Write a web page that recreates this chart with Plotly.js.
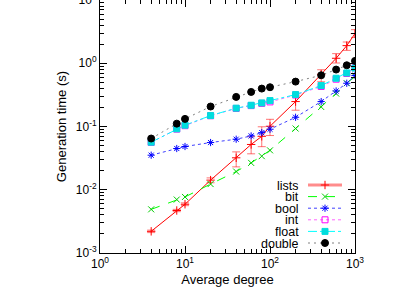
<!DOCTYPE html>
<html><head><meta charset="utf-8">
<script src="https://cdn.plot.ly/plotly-3.0.1.min.js"></script>
<style>html,body{margin:0;padding:0;background:#fff}#c{width:415px;height:291px}</style>
</head><body><div id="c"></div>
<script>
const degree = [4, 8, 10, 20, 40, 60, 80, 100, 200, 400, 600, 800, 1000];
const lists  = [0.0022, 0.0047, 0.0059, 0.0142, 0.032, 0.052, 0.070, 0.101, 0.248, 0.67, 1.2, 1.9, 2.95];
const listsErrPlus  = [0.0001, 0.0002, 0.0003, 0.0012, 0.0077, 0.017, 0.029, 0.029, 0.057, 0.12, 0.22, 0.27, 0.45];
const listsErrMinus = [0.0001, 0.0002, 0.0003, 0.0013, 0.009, 0.015, 0.022, 0.029, 0.067, 0.16, 0.19, 0.30, 0.40];
const bit    = [0.0049, 0.0070, 0.0077, 0.0123, 0.0194, 0.0266, 0.034, 0.042, 0.093, 0.204, 0.332, 0.483, 0.62];
const boolV  = [0.0352, 0.0449, 0.0483, 0.0558, 0.063, 0.071, 0.080, 0.0906, 0.140, 0.248, 0.365, 0.483, 0.64];
const intV   = [0.056, 0.091, 0.103, 0.148, 0.193, 0.214, 0.232, 0.245, 0.315, 0.43, 0.56, 0.69, 0.85];
const floatV = [0.0565, 0.092, 0.105, 0.149, 0.195, 0.217, 0.236, 0.257, 0.32, 0.444, 0.58, 0.703, 0.84];
const doubleV= [0.0646, 0.111, 0.132, 0.207, 0.294, 0.352, 0.398, 0.418, 0.513, 0.646, 0.795, 0.93, 1.09];
const seriesNames = ["lists", "bit", "bool", "int", "float", "double"];
const xTickVals = [1, 10, 100, 1000];
const xTickText = ["10<sup>0</sup>", "10<sup>1</sup>", "10<sup>2</sup>", "10<sup>3</sup>"];
const yTickVals = [0.001, 0.01, 0.1, 1, 10];
const yTickText = ["10<sup>-3</sup>", "10<sup>-2</sup>", "10<sup>-1</sup>", "10<sup>0</sup>", "10<sup>1</sup>"];

const styles = [
  {dash:"solid", symbol:"cross-thin-open", size:6},
  {dash:"dash", symbol:"x-thin-open", size:6},
  {dash:"3px,3px", symbol:"asterisk-open", size:6},
  {dash:"dot", symbol:"square-open", size:6},
  {dash:"dashdot", symbol:"square", size:6},
  {dash:"2px,4px", symbol:"circle", size:7}
];
const values = [lists, bit, boolV, intV, floatV, doubleV];
const lineColor = ["#ff0000","#00ff00","#4040ff","#ff66ff","#00ffff","#808080"];
const markColor = ["#ff0000","#00cc00","#0000ff","#ff00ff","#00dddd","#000000"];

const traces = [];
values.forEach((v, i) => {
  const t = {
    x: degree, y: v, type:"scatter", mode:"lines+markers", name: seriesNames[i],
    line:{color: lineColor[i], width:1, dash: styles[i].dash},
    marker:{symbol: styles[i].symbol, size: styles[i].size, color: markColor[i],
            line:{color: markColor[i], width:1}},
    showlegend:false
  };
  if (i === 0) {
    t.error_y = {type:"data", symmetric:false, array: listsErrPlus, arrayminus: listsErrMinus,
                 color:"rgba(255,0,0,0.55)", thickness:1, width:4};
  }
  traces.push(t);
});

const annotations = [];
seriesNames.forEach((n, i) => {
  const yy = 185 + i * 11.6;
  const isLists = i === 0;
  traces.push({
    x:[208, 242], y:[yy, yy], xaxis:"x2", yaxis:"y2", type:"scatter", mode:"lines",
    line:{color: isLists ? "rgba(255,0,0,0.45)" : lineColor[i], width: isLists ? 3 : 1, dash: styles[i].dash},
    showlegend:false, hoverinfo:"skip"
  });
  traces.push({
    x:[225], y:[yy], xaxis:"x2", yaxis:"y2", type:"scatter", mode:"markers",
    marker:{symbol: styles[i].symbol, size: styles[i].size, color: markColor[i], line:{color: markColor[i], width:1}},
    showlegend:false, hoverinfo:"skip"
  });
  annotations.push({x:201, y:yy, xref:"x2", yref:"y2", text:n, showarrow:false,
    xanchor:"right", yanchor:"middle", height:11,
    font:{size:12.5, color:"#000", family:"Liberation Sans, Arial, sans-serif"}});
});

const axisCommon = {
  showgrid:false, zeroline:false, showline:true, linecolor:"#000", linewidth:1, mirror:"allticks",
  ticks:"inside", ticklen:7, tickcolor:"#000", tickwidth:1,
  tickfont:{size:12, color:"#000", family:"Liberation Sans, Arial, sans-serif"},
  minor:{ticks:"inside", ticklen:4, tickcolor:"#000", dtick:"D1", showgrid:false}
};

const layout = {
  width:415, height:291,
  margin:{l:100, r:60, t:0, b:38},
  paper_bgcolor:"#fff", plot_bgcolor:"#fff",
  font:{family:"Liberation Sans, Arial, sans-serif", size:13, color:"#000"},
  xaxis: Object.assign({}, axisCommon, {type:"log", range:[0,3], tickvals:xTickVals, ticktext:xTickText,
    title:{text:"Average degree", standoff:4, font:{size:13}}}),
  yaxis: Object.assign({}, axisCommon, {type:"log", range:[-3,1.0005], tickvals:yTickVals, ticktext:yTickText,
    ticklabeloverflow:"allow",
    title:{text:"Generation time (s)", standoff:6, font:{size:13}}}),
  xaxis2:{overlaying:"x", anchor:"y2", range:[0,255], visible:false, fixedrange:true},
  yaxis2:{overlaying:"y", anchor:"x2", range:[253,0], visible:false, fixedrange:true},
  annotations: annotations,
  showlegend:false
};
Plotly.newPlot("c", traces, layout, {displayModeBar:false, staticPlot:true});
</script></body></html>
